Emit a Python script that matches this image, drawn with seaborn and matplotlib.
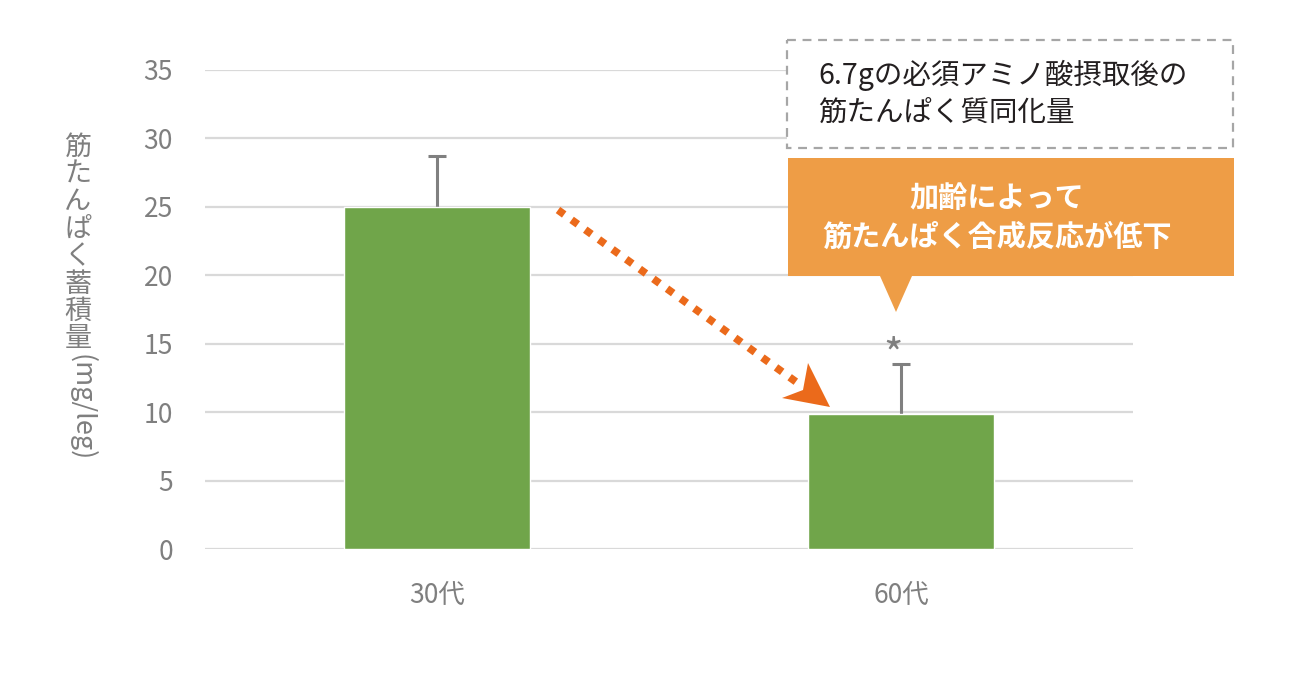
import pandas as pd
import seaborn as sns
import matplotlib.pyplot as plt
from matplotlib.patches import Rectangle, Polygon

# data
ages = ["30代", "60代"]
protein = [25.0, 9.9]
err_up = [3.7, 3.6]
yticks = [0, 5, 10, 15, 20, 25, 30, 35]

ylabel_jp = "筋たんぱく蓄積量"
ylabel_unit = "(mg/leg)"
box_text = "6.7gの必須アミノ酸摂取後の\n筋たんぱく質同化量"
callout_lines = ["加齢によって", "筋たんぱく合成反応が低下"]

bar_green = "#70A54A"
grid_grey = "#D9D9D9"
text_grey = "#7F7F7F"
arrow_orange = "#EB6A1B"
callout_orange = "#EE9D46"

sns.set_theme(style="white")
plt.rcParams['font.family'] = ['Noto Sans CJK JP', 'DejaVu Sans']

W, H = 1300, 700
fig = plt.figure(figsize=(13, 7), dpi=100)
ax = fig.add_axes([205 / W, 1 - 549 / H, 928 / W, 479 / H])

df = pd.DataFrame({"age": ages, "protein": protein})
sns.barplot(data=df, x="age", y="protein", color=bar_green, width=0.4,
            saturation=1, errorbar=None, ax=ax, zorder=3)
# only the upper half of the error bar shows; lower cap hides behind the bar
ax.errorbar(x=range(len(ages)), y=protein, yerr=[[0.5] * len(ages), err_up],
            fmt="none", ecolor="#808080", elinewidth=2.2, capsize=6.8,
            capthick=2.2, zorder=2)
ax.text(0.983, protein[1] + err_up[1] + 0.6, "*", color=text_grey,
        fontsize=30, ha="center", va="center", zorder=5)

ax.set_xlim(-0.5, 1.5)
ax.set_ylim(0, 35)
ax.set_yticks(yticks)
ax.yaxis.grid(True, color=grid_grey, lw=1.6, zorder=0)
ax.set_axisbelow(True)
for s in ax.spines.values():
    s.set_visible(False)
ax.tick_params(axis="y", length=0, pad=23, labelsize=19, labelcolor=text_grey)
ax.tick_params(axis="x", length=0, pad=24, labelsize=19, labelcolor=text_grey)
ax.set_xlabel("")
ax.set_ylabel("")

# overlay in pixel coordinates for the annotations
ov = fig.add_axes([0, 0, 1, 1])
ov.set_xlim(0, W)
ov.set_ylim(H, 0)
ov.axis("off")

# vertical y label
for i, ch in enumerate(ylabel_jp):
    ov.text(78, 147 + i * 27.4, ch, fontsize=19.5, color=text_grey,
            ha="center", va="center")
ov.text(82, 408, ylabel_unit, fontsize=19.5, color=text_grey,
        ha="center", va="center", rotation=-90)

# dashed note box
ov.add_patch(Rectangle((787, 40), 446, 108, fc="white", ec="#A6A6A6",
                       lw=1.6, ls=(0, (4, 3))))
ov.text(818, 94, box_text, fontsize=20.5, color="#231F20",
        ha="left", va="center", linespacing=1.3)

# orange callout
ov.add_patch(Polygon([(788, 158), (1234, 158), (1234, 276), (912, 276),
                      (896, 312), (880, 276), (788, 276)],
                     closed=True, fc=callout_orange, ec="none"))
ov.text(997, 198, callout_lines[0], fontsize=21, color="white",
        fontweight="bold", ha="center", va="center")
ov.text(997, 237, callout_lines[1], fontsize=21, color="white",
        fontweight="bold", ha="center", va="center")

# dotted arrow
ov.plot([558, 799], [210, 384], color=arrow_orange, lw=5.5,
        ls=(0, (1, 1.2)), solid_capstyle="butt", dash_capstyle="butt")
ov.add_patch(Polygon([(808, 363), (830, 407), (782, 398), (803, 390)],
                     closed=True, fc=arrow_orange, ec="none"))

fig.savefig("out.png", dpi=100)
